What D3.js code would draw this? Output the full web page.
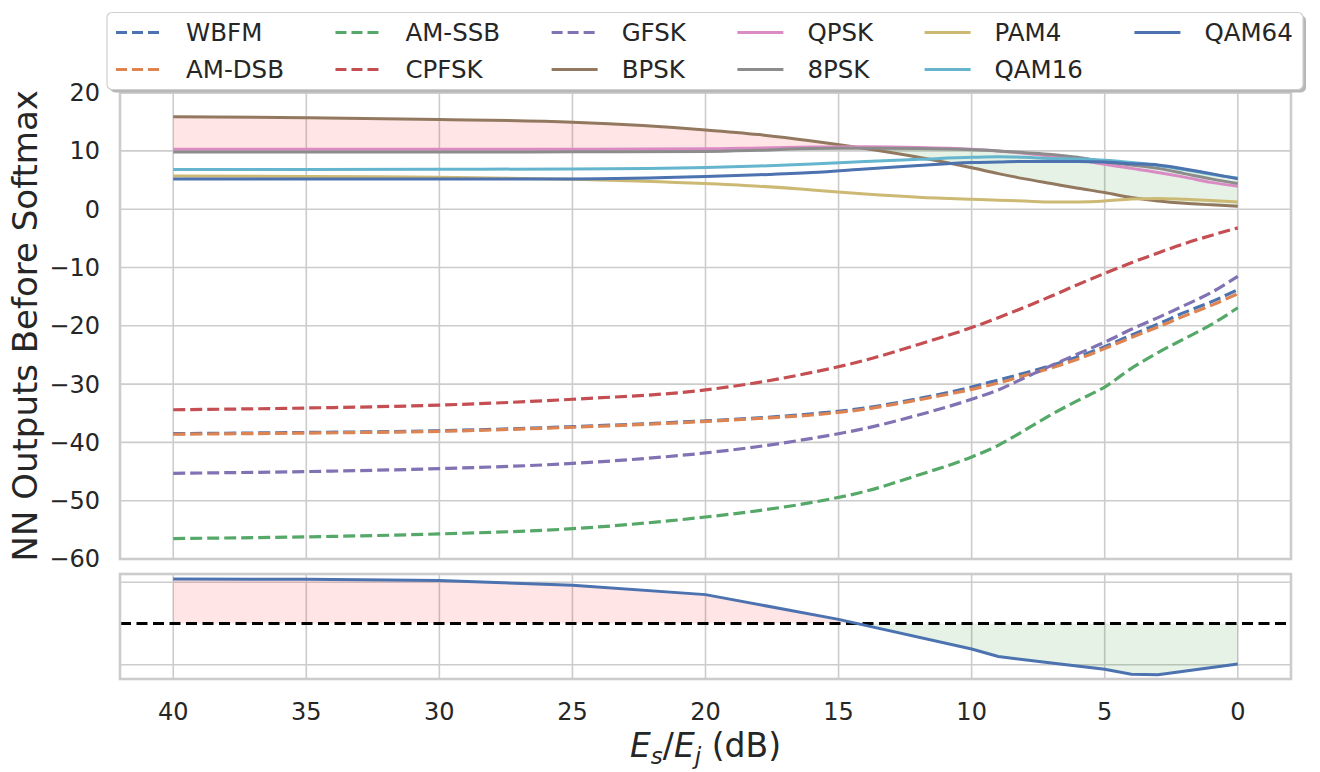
<!DOCTYPE html>
<html><head><meta charset="utf-8">
<script src="https://cdn.jsdelivr.net/npm/d3@7"></script>
<style>
body{margin:0;background:#fff}
svg{display:block}
text{font-family:"DejaVu Sans",sans-serif;fill:#262626}
</style>
</head><body>
<svg id="c" width="1320" height="772"></svg>
<script>
// ---------------- data ----------------
const snr = [40,35,30,25,20,18,16,14,12,10,9,8,7,6,5,4,3,2,1,0];
const seriesNames = ["WBFM","AM-DSB","AM-SSB","CPFSK","GFSK","BPSK","QPSK","8PSK","PAM4","QAM16","QAM64"];
const WBFM   = [-38.5,-38.3,-38.0,-37.3,-36.3,-35.8,-35.1,-34.1,-32.5,-30.5,-29.3,-28.1,-26.8,-25.3,-23.6,-21.6,-19.7,-17.7,-15.9,-13.8];
const AMDSB  = [-38.6,-38.4,-38.1,-37.4,-36.4,-35.9,-35.3,-34.3,-32.7,-30.9,-29.8,-28.5,-27.2,-25.7,-23.9,-22.0,-20.2,-18.3,-16.5,-14.5];
const AMSSB  = [-56.5,-56.2,-55.7,-54.8,-52.8,-51.7,-50.3,-48.4,-45.6,-42.5,-40.5,-37.9,-35.2,-32.8,-30.5,-27.3,-24.6,-22.2,-19.8,-16.9];
const CPFSK  = [-34.4,-34.1,-33.6,-32.6,-31.0,-29.7,-28.0,-25.9,-23.2,-20.3,-18.6,-16.8,-14.9,-12.9,-11.0,-9.2,-7.5,-5.9,-4.5,-3.2];
const GFSK   = [-45.3,-45.0,-44.5,-43.6,-41.8,-40.7,-39.3,-37.6,-35.3,-32.6,-31.0,-28.9,-26.8,-24.8,-22.8,-20.6,-18.6,-16.5,-14.3,-11.5];
const BPSK   = [15.85,15.7,15.4,14.9,13.6,12.8,11.7,10.4,8.9,7.1,6.1,5.2,4.4,3.6,2.85,2.0,1.4,1.0,0.75,0.5];
const QPSK   = [10.3,10.3,10.3,10.3,10.35,10.5,10.65,10.7,10.6,10.3,10.0,9.6,9.1,8.5,7.7,7.0,6.3,5.5,4.6,3.95];
const PSK8   = [9.8,9.8,9.8,9.85,9.9,10.1,10.4,10.45,10.4,10.2,10.0,9.7,9.4,8.9,8.1,7.6,7.0,6.1,5.2,4.4];
const PAM4   = [5.7,5.6,5.5,5.15,4.4,3.95,3.3,2.6,2.05,1.7,1.55,1.4,1.25,1.25,1.4,1.75,1.85,1.7,1.5,1.25];
const QAM16  = [6.8,6.8,6.85,6.9,7.15,7.4,7.75,8.2,8.55,8.9,9.0,8.9,8.7,8.6,8.4,8.0,7.5,6.8,6.0,5.35];
const QAM64  = [5.2,5.2,5.2,5.2,5.6,5.9,6.3,6.9,7.5,8.0,8.1,8.2,8.2,8.2,8.1,7.8,7.6,6.9,6.1,5.2];
const seriesValues = [WBFM,AMDSB,AMSSB,CPFSK,GFSK,BPSK,QPSK,PSK8,PAM4,QAM16,QAM64];
const seriesDashed = [true,true,true,true,true,false,false,false,false,false,false];
const seriesColors = ["#4c72b0","#dd8452","#55a868","#c44e52","#8172b3","#937860","#da8bc3","#8c8c8c","#ccb974","#64b5cd","#4c72b0"];
const refName = "BPSK";

const marginSnr  = [40,35,30,25,20,15,10,9,7,5,4,3,0];
const marginVals = [5.4,5.35,5.2,4.65,3.5,0.5,-3.1,-4.0,-4.8,-5.55,-6.15,-6.2,-4.9];

const xTicks = [40,35,30,25,20,15,10,5,0];
const yTicks = [20,10,0,-10,-20,-30,-40,-50,-60];
const yTicksBottom = [5,-5];

// ---------------- layout ----------------
const svg = d3.select("#c");
const L = 120, R = 1291;
const topT = 92.6, topB = 559;
const botT = 574, botB = 679;
const gridC = "#cccccc";

const x = d3.scaleLinear().domain([42,-2]).range([L,R]);
const y = d3.scaleLinear().domain([-60,20]).range([topB,topT]);
const y2 = d3.scaleLinear().domain([-6.73,6.0]).range([botB,botT]);

const defs = svg.append("defs");

// ---------------- grids ----------------
const g = svg.append("g");
g.selectAll(".vg").data(xTicks).join("line")
  .attr("x1",d=>x(d)).attr("x2",d=>x(d)).attr("y1",topT).attr("y2",topB)
  .attr("stroke",gridC).attr("stroke-width",1.6);
g.selectAll(".hg").data(yTicks).join("line")
  .attr("x1",L).attr("x2",R).attr("y1",d=>y(d)).attr("y2",d=>y(d))
  .attr("stroke",gridC).attr("stroke-width",1.6);
const g2 = svg.append("g");
g2.selectAll(".vg2").data(xTicks).join("line")
  .attr("x1",d=>x(d)).attr("x2",d=>x(d)).attr("y1",botT).attr("y2",botB)
  .attr("stroke",gridC).attr("stroke-width",1.6);
g2.selectAll(".hg2").data(yTicksBottom).join("line")
  .attr("x1",L).attr("x2",R).attr("y1",d=>y2(d)).attr("y2",d=>y2(d))
  .attr("stroke",gridC).attr("stroke-width",1.6);

// ---------------- top fill ----------------
const refIdx = seriesNames.indexOf(refName);
const maxOthers = snr.map((s,i)=>d3.max(seriesValues.filter((v,k)=>k!==refIdx).map(v=>v[i])));
const idx = d3.range(snr.length);
const curve = d3.curveMonotoneX;

defs.append("clipPath").attr("id","aboveMax").append("path")
  .attr("d", d3.area().x(i=>x(snr[i])).y0(topT-50).y1(i=>y(maxOthers[i])).curve(curve)(idx));
defs.append("clipPath").attr("id","belowMax").append("path")
  .attr("d", d3.area().x(i=>x(snr[i])).y0(i=>y(maxOthers[i])).y1(topB+50).curve(curve)(idx));

const betweenArea = d3.area().x(i=>x(snr[i])).y0(i=>y(maxOthers[i])).y1(i=>y(seriesValues[refIdx][i])).curve(curve);
svg.append("path").attr("d",betweenArea(idx)).attr("fill","rgb(255,0,0)").attr("fill-opacity",0.1).attr("clip-path","url(#aboveMax)");
svg.append("path").attr("d",betweenArea(idx)).attr("fill","rgb(0,128,0)").attr("fill-opacity",0.1).attr("clip-path","url(#belowMax)");

// ---------------- top lines ----------------
const line = vals => d3.line().x(i=>x(snr[i])).y(i=>y(vals[i])).curve(curve)(idx);
seriesNames.forEach((n,k)=>{
  svg.append("path").attr("d",line(seriesValues[k]))
    .attr("fill","none").attr("stroke",seriesColors[k]).attr("stroke-width",seriesDashed[k]?3.2:3)
    .attr("stroke-dasharray",seriesDashed[k]?"12,5":null);
});

// ---------------- bottom panel ----------------
defs.append("clipPath").attr("id","posClip").append("rect")
  .attr("x",L).attr("y",botT).attr("width",R-L).attr("height",y2(0)-botT);
defs.append("clipPath").attr("id","negClip").append("rect")
  .attr("x",L).attr("y",y2(0)).attr("width",R-L).attr("height",botB-y2(0));
const midx = d3.range(marginSnr.length);
const mArea = d3.area().x(i=>x(marginSnr[i])).y0(y2(0)).y1(i=>y2(marginVals[i]));
svg.append("path").attr("d",mArea(midx)).attr("fill","rgb(255,0,0)").attr("fill-opacity",0.1).attr("clip-path","url(#posClip)");
svg.append("path").attr("d",mArea(midx)).attr("fill","rgb(0,128,0)").attr("fill-opacity",0.1).attr("clip-path","url(#negClip)");
svg.append("line").attr("x1",L).attr("x2",R).attr("y1",y2(0)).attr("y2",y2(0))
  .attr("stroke","#000").attr("stroke-width",3).attr("stroke-dasharray","11,5.5");
svg.append("path").attr("d",d3.line().x(i=>x(marginSnr[i])).y(i=>y2(marginVals[i]))(midx))
  .attr("fill","none").attr("stroke","#4c72b0").attr("stroke-width",3);

// ---------------- spines ----------------
svg.append("rect").attr("x",L).attr("y",topT).attr("width",R-L).attr("height",topB-topT)
  .attr("fill","none").attr("stroke",gridC).attr("stroke-width",2.6);
svg.append("rect").attr("x",L).attr("y",botT).attr("width",R-L).attr("height",botB-botT)
  .attr("fill","none").attr("stroke",gridC).attr("stroke-width",2.6);

// ---------------- tick labels ----------------
svg.append("g").selectAll("text").data(yTicks).join("text")
  .attr("x",L-20).attr("y",d=>y(d)).attr("dy","0.35em").attr("text-anchor","end")
  .attr("font-size",24).text(d=>d<0?"\u2212"+Math.abs(d):d);
svg.append("g").selectAll("text").data(xTicks).join("text")
  .attr("x",d=>x(d)).attr("y",botB+41).attr("text-anchor","middle")
  .attr("font-size",24).text(d=>d);

// axis labels
svg.append("text").attr("transform",`translate(37,${(topT+topB)/2}) rotate(-90)`)
  .attr("text-anchor","middle").attr("font-size",34).text("NN Outputs Before Softmax");
const xl = svg.append("text").attr("x",(L+R)/2).attr("y",757).attr("text-anchor","middle").attr("font-size",33);
xl.append("tspan").attr("font-style","italic").text("E");
xl.append("tspan").attr("font-style","italic").attr("font-size",23).attr("dy",7).text("s");
xl.append("tspan").attr("dy",-7).text("/");
xl.append("tspan").attr("font-style","italic").text("E");
xl.append("tspan").attr("font-style","italic").attr("font-size",23).attr("dy",7).text("j");
xl.append("tspan").attr("dy",-7).text(" (dB)");

// ---------------- legend ----------------
const lg = svg.append("g");
const lgX = 107, lgY = 12.5, lgW = 1196, lgH = 77;
lg.append("rect").attr("x",lgX+3).attr("y",lgY+3).attr("width",lgW).attr("height",lgH).attr("rx",5)
  .attr("fill","#b8b8b8");
lg.append("rect").attr("x",lgX).attr("y",lgY).attr("width",lgW).attr("height",lgH).attr("rx",5)
  .attr("fill","#fff").attr("stroke","#cfcfcf").attr("stroke-width",1.2);
const nCols = 6, rows = 2;
const rowY = [32.5, 69.5];
let colX = 116;
for (let c=0;c<nCols;c++){
  let maxW = 0;
  for (let r=0;r<rows;r++){
    const k = c*rows + r;
    if (k>=seriesNames.length) continue;
    lg.append("line").attr("x1",colX).attr("x2",colX+46).attr("y1",rowY[r]).attr("y2",rowY[r])
      .attr("stroke",seriesColors[k]).attr("stroke-width",3)
      .attr("stroke-dasharray",seriesDashed[k]?"11,5":null);
    const t = lg.append("text").attr("x",colX+70).attr("y",rowY[r]).attr("dy","0.35em")
      .attr("font-size",24.5).text(seriesNames[k]);
    maxW = Math.max(maxW, t.node().getComputedTextLength());
  }
  colX = colX + 70 + maxW + 51.5;
}
</script>
</body></html>
